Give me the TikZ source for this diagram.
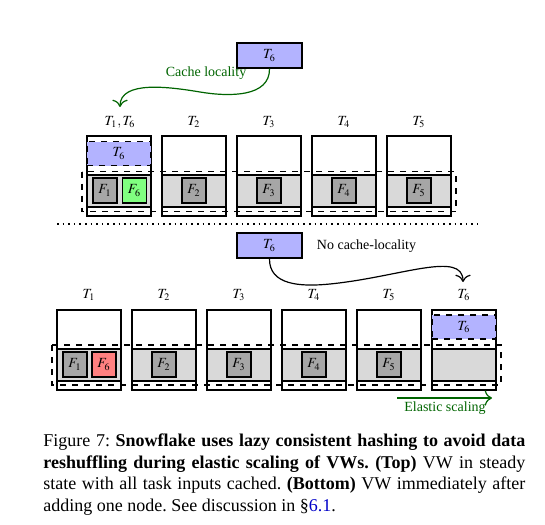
\documentclass[tikz,border=0pt]{standalone}
\usepackage{mathptmx}
\usepackage{fontspec}
\setmainfont{Liberation Serif}
\usepackage{xcolor}
\usepackage{tikz}
\usetikzlibrary{arrows,arrows.meta,positioning}
\definecolor{taskblue}{RGB}{179,179,255}
\definecolor{localgreen}{RGB}{0,100,0}
\definecolor{refblue}{RGB}{0,0,200}
\tikzset{
  vw/.style={draw=black,thick,fill=white},
  band/.style={draw=black,thick,fill=gray!30},
  file/.style={draw=black,thick,fill=gray!70,minimum width=12pt,minimum height=12.5pt,inner sep=0pt,font=\fontsize{7}{8}\selectfont},
  task/.style={draw=black,semithick,fill=taskblue,minimum width=32.5pt,minimum height=12.5pt,inner sep=0pt,font=\fontsize{7}{8}\selectfont},
  cached/.style={task,dashed,minimum width=32pt,minimum height=12pt},
  lbl/.style={font=\fontsize{7}{8}\selectfont,inner sep=1pt},
  edge/.style={dashed,semithick}
}

\begin{document}
\begin{tikzpicture}[x=0.5pt,y=-0.5pt,line cap=butt,line join=miter,>={To[scale=1.25]}]
\useasboundingbox (0,0) rectangle (545,524);
% top: steady state, five nodes
\foreach \i [evaluate=\i as \x using 12+75*\i] in {1,...,5}{
  \draw[vw] (\x,136) rectangle ++(64,80);
  \draw[band] (\x,175) rectangle ++(64,32);
}
\draw[edge] (82,171.5) rectangle (456,211.5);
\node[lbl] (ta1) at (120,122) {$T_1, T_6$};
\foreach \i [evaluate=\i as \x using 44+75*\i] in {2,...,5}{
  \node[lbl] (ta\i) at (\x,122) {$T_{\i}$};
  \node[file] (fa\i) at (\x,190.5) {$F_{\i}$};
}
\node[file] (fa1) at (105,190.5) {$F_1$};
\node[file,fill=green!50] (fa6) at (134.5,190.5) {$F_6$};
\node[cached] (tc1) at (119,153.5) {$T_6$};
\node[task] (tnew) at (269.5,55.5) {$T_6$};
\node[lbl,text=localgreen] (cachetxt) at (206,73) {Cache locality};
\coordinate (cachein) at (120,107);
\draw[->,localgreen,semithick] (tnew.south) .. controls (270,97) and (230,97) .. (200,92)
      .. controls (170,87) and (120,80) .. (cachein);
%
\draw[dotted,thick] (57,224) -- (478,224);
% bottom: one node added
\foreach \i [evaluate=\i as \x using -18+75*\i] in {1,...,6}{
  \draw[vw] (\x,310) rectangle ++(64,80);
  \draw[band] (\x,349) rectangle ++(64,32);
}
\draw[edge] (52,345) rectangle (501,385);
\foreach \i [evaluate=\i as \x using 14+75*\i] in {1,...,6}{
  \node[lbl] (tb\i) at (\x,295) {$T_{\i}$};
}
\foreach \i [evaluate=\i as \x using 14+75*\i] in {2,...,5}{
  \node[file] (fb\i) at (\x,364.5) {$F_{\i}$};
}
\node[file] (fb1) at (75,364.5) {$F_1$};
\node[file,fill=red!50] (fb6) at (104,364.5) {$F_6$};
\node[cached] (tc6) at (464,327) {$T_6$};
\node[task] (tnew2) at (269.5,245.5) {$T_6$};
\node[lbl] (nocache) at (366.5,246) {No cache-locality};
\coordinate (scalein) at (463,282);
\draw[->,semithick] (tnew2.south) .. controls (269,285) and (300,287) .. (330,284)
      .. controls (400,277) and (463,250) .. (scalein);
\coordinate (elA) at (397,398);
\coordinate (elB) at (492,398);
\draw[->,localgreen,semithick] (elA) -- (elB);
\node[lbl,text=localgreen] (elastic) at (445,408) {Elastic scaling};
% caption
\node[anchor=north west,inner sep=0pt,text width=241pt,align=justify,
      font=\fontsize{9}{10.75}\selectfont\frenchspacing] (caption) at (43,433.5)
  {Figure 7: \textbf{Snowflake uses lazy consistent hashing to avoid data\linebreak
   reshuffling during elastic scaling of VWs. (Top)} VW in steady\linebreak
   state with all task inputs cached. \textbf{(Bottom)} VW immediately after\linebreak
   adding one node. See discussion in \S\textcolor{refblue}{6.1}.};
\end{tikzpicture}
\end{document}
